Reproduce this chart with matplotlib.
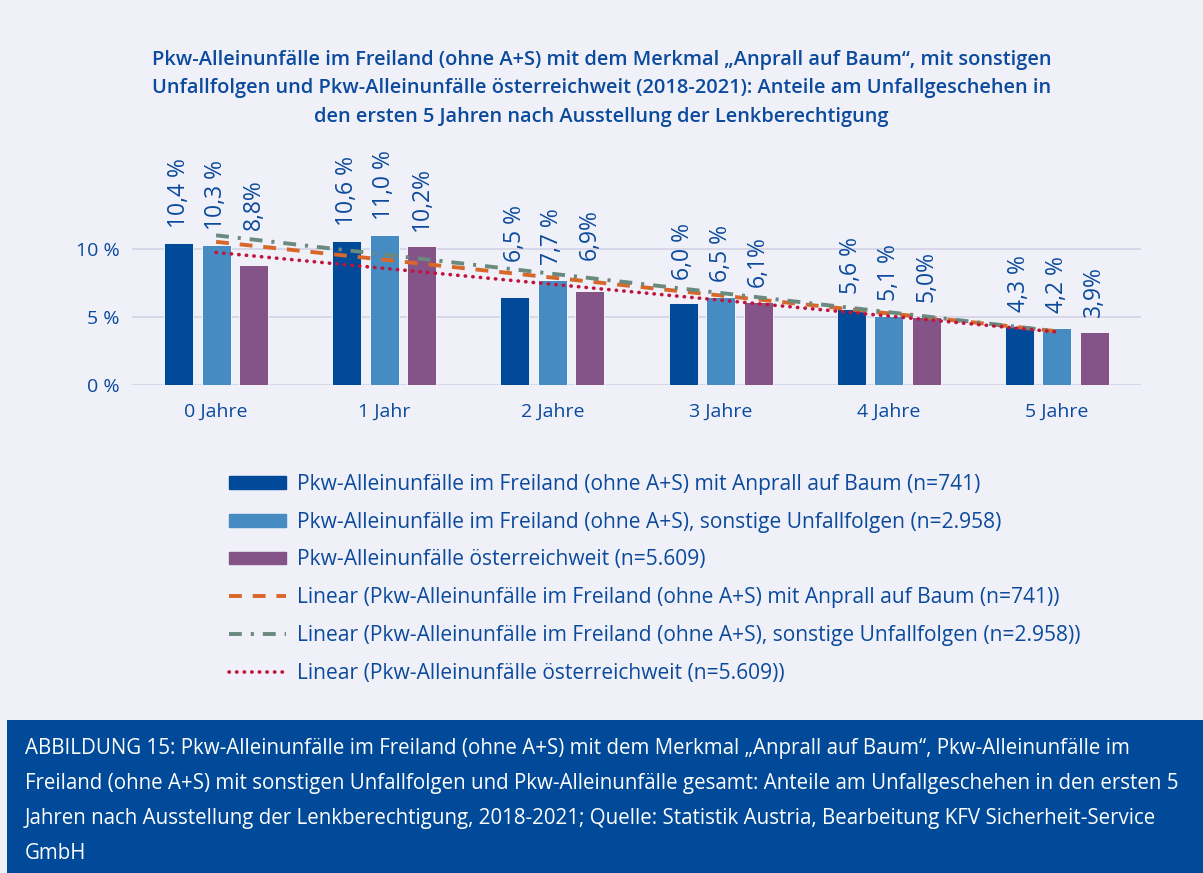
import numpy as np
import matplotlib.pyplot as plt
from matplotlib.patches import Rectangle
from matplotlib.lines import Line2D

plt.rcParams['font.family'] = ['Open Sans', 'DejaVu Sans']

categories = ['0 Jahre', '1 Jahr', '2 Jahre', '3 Jahre', '4 Jahre', '5 Jahre']
baum = [10.4, 10.6, 6.5, 6.0, 5.6, 4.3]
sonstige = [10.3, 11.0, 7.7, 6.5, 5.1, 4.2]
gesamt = [8.8, 10.2, 6.9, 6.1, 5.0, 3.9]
labels_baum = ['10,4 %', '10,6 %', '6,5 %', '6,0 %', '5,6 %', '4,3 %']
labels_sonstige = ['10,3 %', '11,0 %', '7,7 %', '6,5 %', '5,1 %', '4,2 %']
labels_gesamt = ['8,8%', '10,2%', '6,9%', '6,1%', '5,0%', '3,9%']

names = ['Pkw-Alleinunfälle im Freiland (ohne A+S) mit Anprall auf Baum (n=741)',
         'Pkw-Alleinunfälle im Freiland (ohne A+S), sonstige Unfallfolgen (n=2.958)',
         'Pkw-Alleinunfälle österreichweit (n=5.609)']

title = ('Pkw-Alleinunfälle im Freiland (ohne A+S) mit dem Merkmal „Anprall auf Baum“, mit sonstigen\n'
         'Unfallfolgen und Pkw-Alleinunfälle österreichweit (2018-2021): Anteile am Unfallgeschehen in\n'
         'den ersten 5 Jahren nach Ausstellung der Lenkberechtigung')
caption = ('ABBILDUNG 15: Pkw-Alleinunfälle im Freiland (ohne A+S) mit dem Merkmal „Anprall auf Baum“, Pkw-Alleinunfälle im\n'
           'Freiland (ohne A+S) mit sonstigen Unfallfolgen und Pkw-Alleinunfälle gesamt: Anteile am Unfallgeschehen in den ersten 5\n'
           'Jahren nach Ausstellung der Lenkberechtigung, 2018-2021; Quelle: Statistik Austria, Bearbeitung KFV Sicherheit-Service\n'
           'GmbH')

bg = '#EFF0F8'
txt = '#0B4A9C'
bar_colors = ['#004A99', '#468CC2', '#845489']
trend_colors = ['#D8672A', '#6A8A7E', '#C0143C']

# gap between bar top and its label (some labels were moved up to clear the trend lines)
gap_baum = [1.1, 1.1, 2.5, 1.7, 1.1, 1.1]
gap_sonstige = [1.1, 1.1, 1.1, 1.1, 1.1, 1.1]
gap_gesamt = [2.6, 1.1, 2.3, 1.1, 1.1, 1.1]

W, H = 1203, 873
fig = plt.figure(figsize=(W / 100, H / 100), dpi=100, facecolor=bg)

ax = fig.add_axes([132 / W, 1 - 385 / H, (1141 - 132) / W, (385 - 140) / H])
ax.set_facecolor(bg)

x = np.arange(len(categories))
width = 0.173
step = 0.223
series = [baum, sonstige, gesamt]
lbls = [labels_baum, labels_sonstige, labels_gesamt]
gaps = [gap_baum, gap_sonstige, gap_gesamt]
for i, (vals, lab, gp) in enumerate(zip(series, lbls, gaps)):
    pos = x + (i - 1) * step
    ax.bar(pos, vals, width, color=bar_colors[i], edgecolor='white', linewidth=0.6, zorder=2)
    for p, v, t, g in zip(pos, vals, lab, gp):
        ax.text(p, v + g, t, rotation=90, ha='center', va='bottom', fontsize=16.5, color=txt, zorder=4)

# linear trend lines
styles = [dict(linestyle=(0, (3.3, 2.8)), linewidth=2.8),
          dict(linestyle=(0, (3.3, 2.3, 0.8, 2.3)), linewidth=2.8),
          dict(linestyle=(0, (0.1, 2.0)), linewidth=2.6, dash_capstyle='round')]
for i, vals in enumerate(series):
    k, d = np.polyfit(x, vals, 1)
    ax.plot(x, k * x + d, color=trend_colors[i], zorder=3, **styles[i])

ax.set_xlim(-0.5, 5.5)
ax.set_ylim(0, 18)
ax.set_yticks([0, 5, 10])
ax.set_yticklabels(['0 %', '5 %', '10 %'])
ax.set_xticks(x)
ax.set_xticklabels(categories)
ax.tick_params(length=0, labelsize=14, labelcolor=txt, pad=9)
ax.tick_params(axis='x', pad=13)
ax.grid(axis='y', color='#D3D3E6', linewidth=1.2, zorder=0)
for s in ax.spines.values():
    s.set_visible(False)

fig.text(0.5, 1 - 50 / H, title, ha='center', va='top', fontsize=14.4, color=txt,
         fontweight='semibold', linespacing=1.56)

handles = [Rectangle((0, 0), 1, 1, color=c) for c in bar_colors]
handles += [Line2D([], [], color=trend_colors[i], **styles[i]) for i in range(3)]
leg_labels = names + ['Linear (' + n + ')' for n in names]
leg = fig.legend(handles, leg_labels, loc='upper left', bbox_to_anchor=(210 / W, 1 - 455 / H),
                 frameon=False, fontsize=15.1, labelcolor=txt, handlelength=2.7, handleheight=0.55,
                 labelspacing=0.8, handletextpad=0.57)

fig.patches.append(Rectangle((7 / W, 0), 1 - 7 / W, (H - 720) / H, transform=fig.transFigure,
                             facecolor='#004A99', edgecolor='none'))
fig.text(25 / W, 1 - 738 / H, caption, ha='left', va='top', fontsize=14.8, color='white', linespacing=1.88)

fig.savefig('out.png', dpi=100, facecolor=bg)
